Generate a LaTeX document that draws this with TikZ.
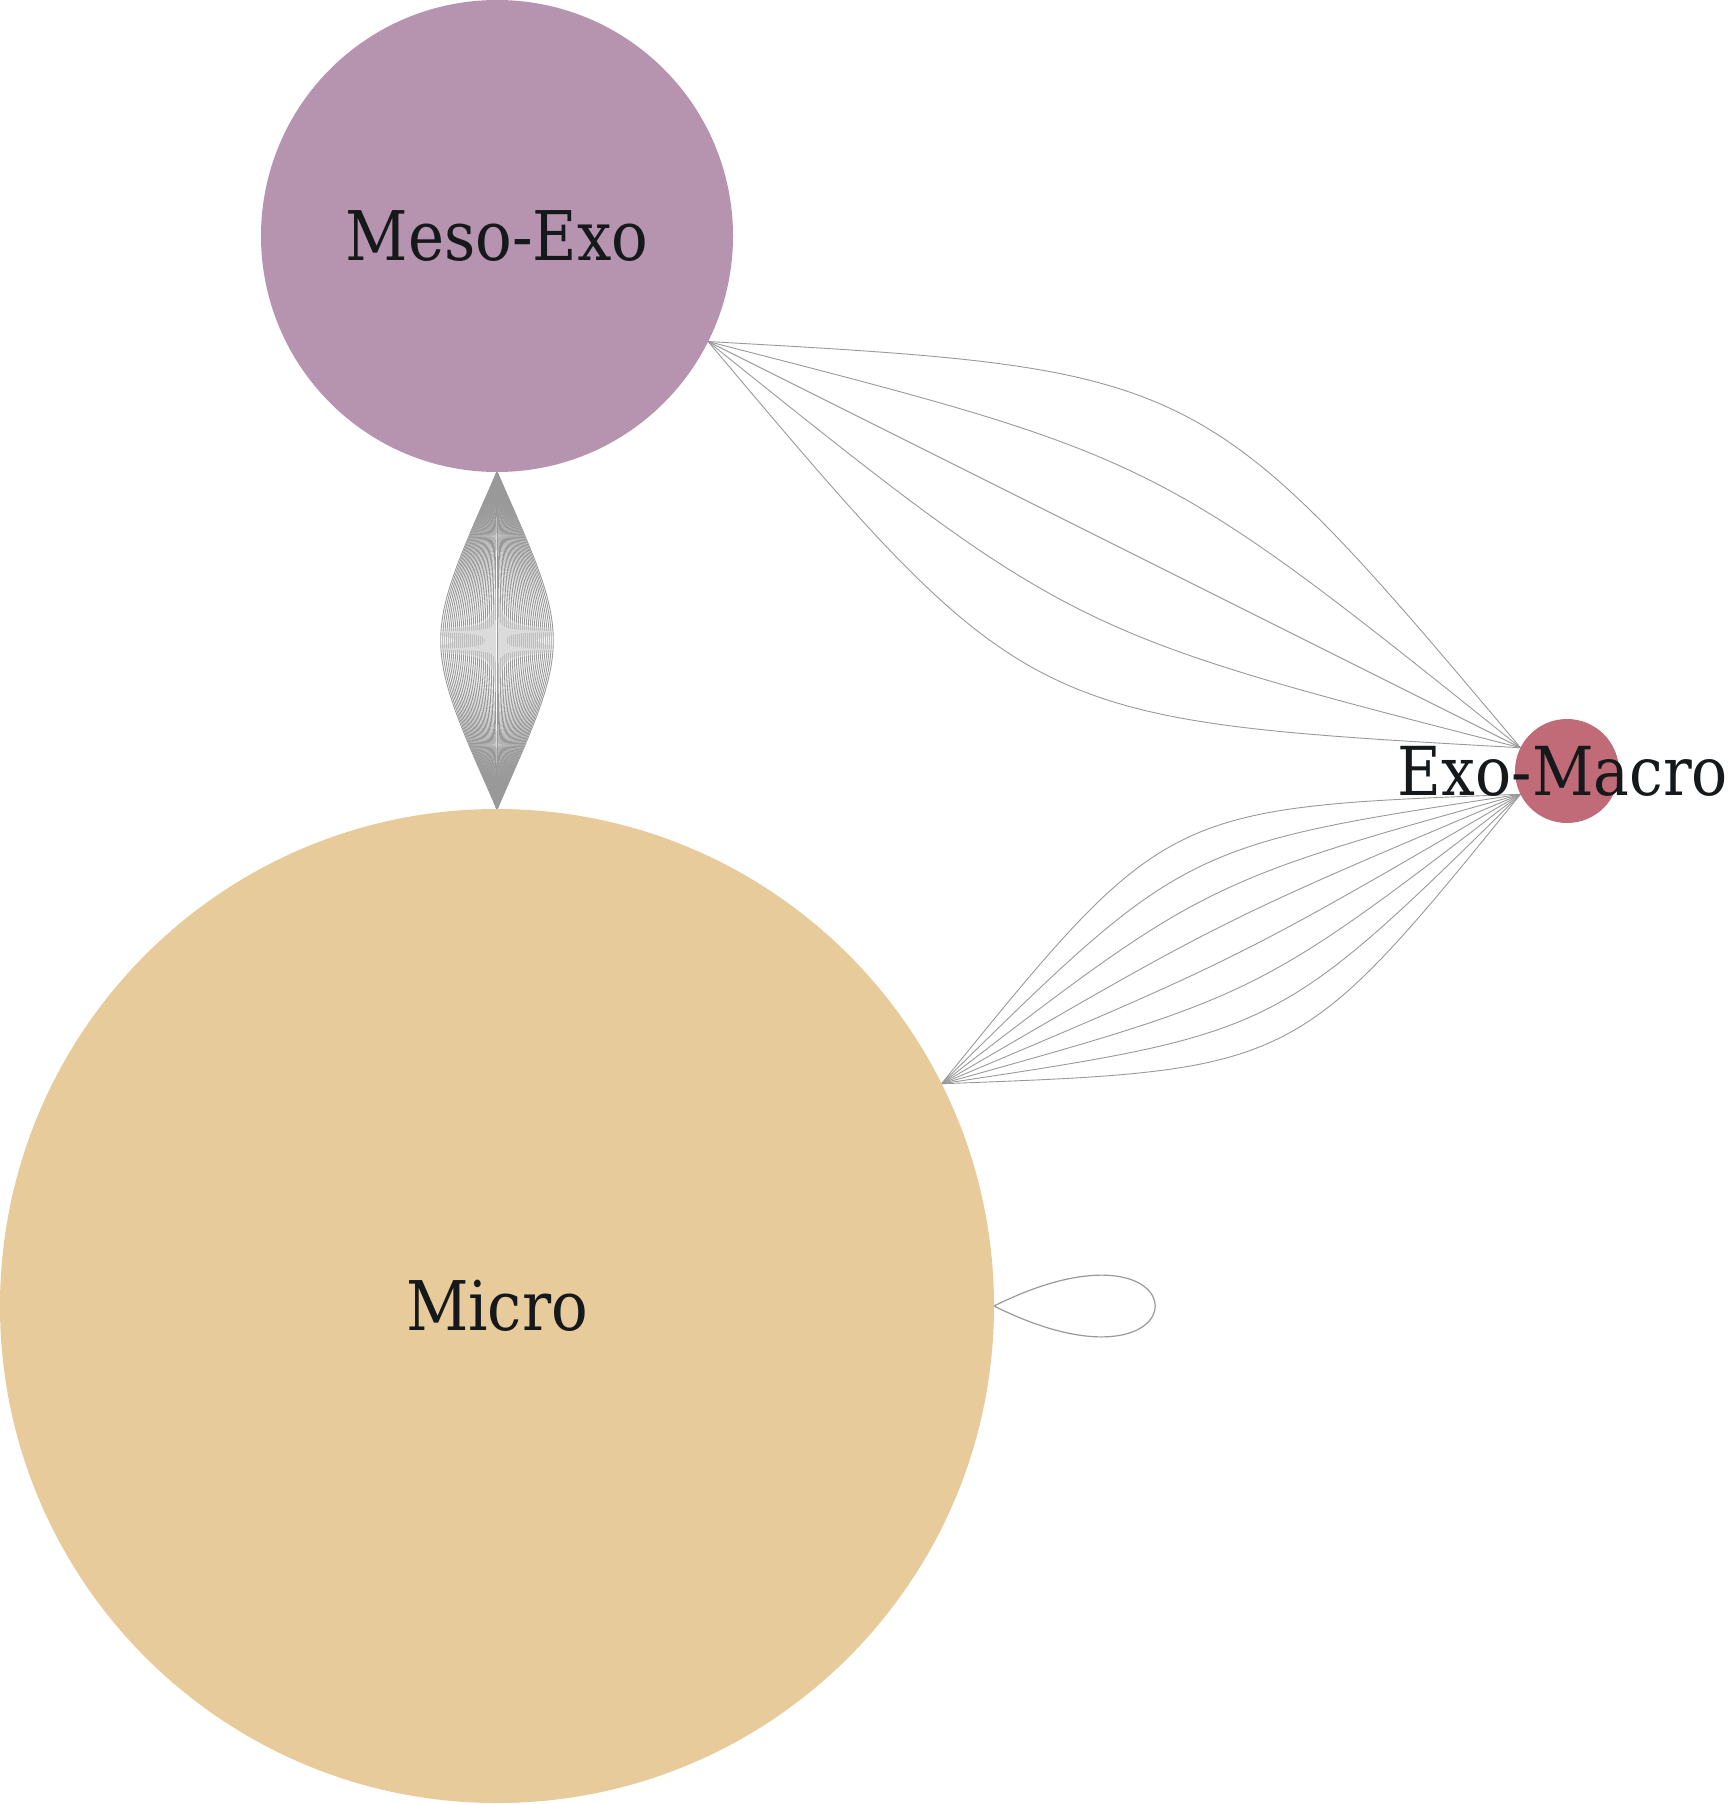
\documentclass[tikz,border=0pt]{standalone}
\usepackage{fontspec}
\setmainfont{DejaVu Serif}[FakeStretch=0.89]
\usetikzlibrary{calc}
\pgfdeclarelayer{background}
\pgfsetlayers{background,main}
\definecolor{mesoc}{HTML}{B693AE}
\definecolor{microc}{HTML}{E8CB9A}
\definecolor{macroc}{HTML}{C06B77}
\definecolor{txtc}{HTML}{15191C}
\definecolor{edgec}{HTML}{999999}
\begin{document}
\begin{tikzpicture}[x=1pt,y=-1pt,
  vtx/.style={circle,inner sep=0pt,outer sep=0pt,draw=none},
  lbl/.style={font=\fontsize{68.5}{74}\selectfont,text=txtc,inner sep=0pt},
  edge/.style={draw=edgec,line width=0.9pt}]
\useasboundingbox (0,0) rectangle (1729,1804);
\node[vtx,fill=mesoc,minimum size=472pt,label={[lbl]center:Meso-Exo}] (meso) at (497,236) {};
\node[vtx,fill=microc,minimum size=994pt,label={[lbl]center:Micro}] (micro) at (497,1306) {};
\node[vtx,fill=macroc,minimum size=104pt,label={[lbl,xshift=-4pt,font=\fontsize{67.5}{74}\selectfont]center:Exo-Macro}] (macro) at (1567,771) {};
\path (meso) -- (macro) coordinate[pos=0] (mA) coordinate[pos=1] (mB);
\path (micro) -- (macro) coordinate[pos=0] (cA) coordinate[pos=1] (cB);
\path (meso) -- (micro) coordinate[pos=0] (lA) coordinate[pos=1] (lB);
\begin{pgfonlayer}{background}
\foreach \k in {-2,...,2}{
  \pgfmathsetmacro\h{\k*98}
  \draw[edge] (mA) .. controls ($(mA)!0.5!(mB)!\h pt!90:(mB)$) .. (mB);
}
\foreach \k in {0,...,7}{
  \pgfmathsetmacro\h{(\k-3.5)*42}
  \draw[edge] (cA) .. controls ($(cA)!0.5!(cB)!\h pt!90:(cB)$) .. (cB);
}
\foreach \k in {-28,...,28}{
  \pgfmathsetmacro\h{\k*2.68}
  \draw[edge] (lA) .. controls ($(lA)!0.5!(lB)!\h pt!90:(lB)$) .. (lB);
}
\draw[edge,line width=1.2pt] (micro.east) .. controls +(215,-107) and +(215,107) .. (micro.east);
\end{pgfonlayer}
\end{tikzpicture}
\end{document}
